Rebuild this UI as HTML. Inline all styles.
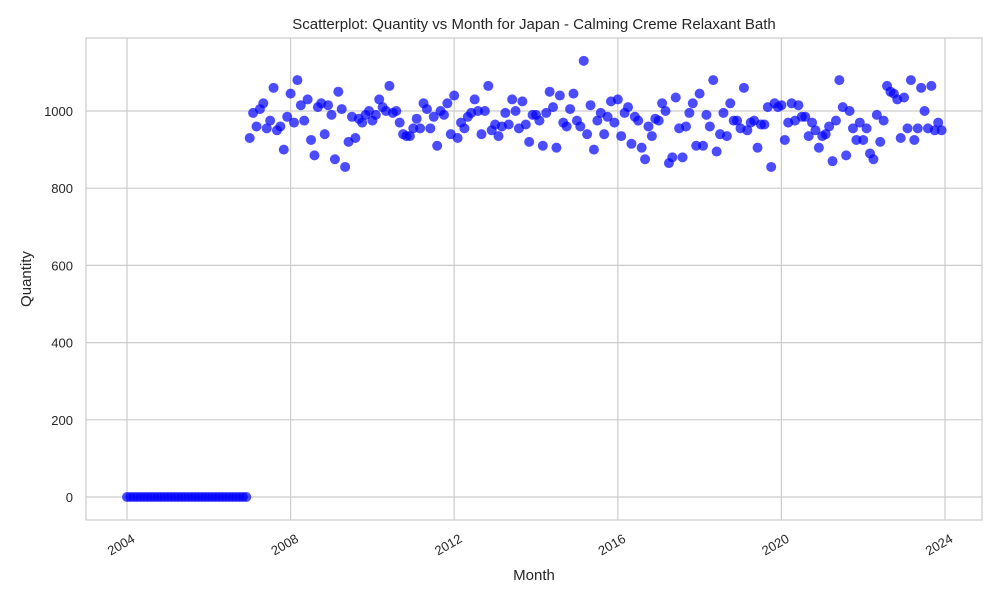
<!DOCTYPE html>
<html><head><meta charset="utf-8"><style>
body{margin:0;background:#fff;}
svg text{font-family:"Liberation Sans",sans-serif;fill:#262626;}
</style></head><body>
<svg id="c" width="1000" height="600" xmlns="http://www.w3.org/2000/svg">
<rect width="1000" height="600" fill="#fff"/>
<text x="534" y="29" font-size="15" text-anchor="middle">Scatterplot: Quantity vs Month for Japan - Calming Creme Relaxant Bath</text>
<text x="534" y="580" font-size="15" text-anchor="middle">Month</text>
<text transform="translate(31,279) rotate(-90)" font-size="15" text-anchor="middle">Quantity</text>
<g id="grid"></g><g id="pts"></g>
<rect x="86" y="38" width="896" height="482" fill="none" stroke="#ccc" stroke-width="1.2"/>
</svg>
<script>
const startYear = 2004;
const zeroMonths = 36;
const values2007 = [930,995,960,1005,1020,955,975,1060,950,960,900,985];
const values2008 = [1045,970,1080,1015,975,1030,925,885,1010,1020,940,1015];
const values2009 = [990,875,1050,1005,855,920,985,930,980,970,990,1000];
const values2010 = [975,990,1030,1010,1000,1065,995,1000,970,940,935,935];
const values2011 = [955,980,955,1020,1005,955,985,910,1000,990,1020,940];
const values2012 = [1040,930,970,955,985,995,1030,1000,940,1000,1065,950];
const values2013 = [965,935,960,995,965,1030,1000,955,1025,965,920,990];
const values2014 = [990,975,910,995,1050,1010,905,1040,970,960,1005,1045];
const values2015 = [975,960,1130,940,1015,900,975,995,940,985,1025,970];
const values2016 = [1030,935,995,1010,915,985,975,905,875,960,935,980];
const values2017 = [975,1020,1000,865,880,1035,955,880,960,995,1020,910];
const values2018 = [1045,910,990,960,1080,895,940,995,935,1020,975,975];
const values2019 = [955,1060,950,970,975,905,965,965,1010,855,1020,1010];
const values2020 = [1015,925,970,1020,975,1015,985,985,935,970,950,905];
const values2021 = [935,940,960,870,975,1080,1010,885,1000,955,925,970];
const values2022 = [925,955,890,875,990,920,975,1065,1050,1045,1030,930];
const values2023 = [1035,955,1080,925,955,1060,1000,955,1065,950,970,950];
const yTicks = [0,200,400,600,800,1000];
const xTicks = [2004,2008,2012,2016,2020,2024];

const quantities = new Array(zeroMonths).fill(0).concat(values2007,values2008,values2009,values2010,values2011,values2012,values2013,values2014,values2015,values2016,values2017,values2018,values2019,values2020,values2021,values2022,values2023);
const NS="http://www.w3.org/2000/svg";
function xs(yearFrac){return 127+(yearFrac-2004)*40.9;}
function ys(v){return 497-v*0.386;}
function mk(t,a,p){const e=document.createElementNS(NS,t);for(const k in a)e.setAttribute(k,a[k]);p.appendChild(e);return e;}
const grid=document.getElementById('grid'),svg=document.getElementById('c'),pts=document.getElementById('pts');
yTicks.forEach(v=>{
  const l=mk('line',{x1:86,x2:982,y1:ys(v),y2:ys(v),stroke:'#ccc','stroke-width':1.2},grid);
  
  
  const t=mk('text',{x:73,y:ys(v)+5,'font-size':13,'text-anchor':'end'},svg);
  t.textContent=v;
  
  
});
xTicks.forEach(yr=>{
  const x=xs(yr);
  const l=mk('line',{x1:x,x2:x,y1:38,y2:520,stroke:'#ccc','stroke-width':1.2},grid);
  
  
  const t=mk('text',{transform:`translate(${x+4},${533}) rotate(-30)`,'font-size':13,'text-anchor':'end','dominant-baseline':'hanging'},svg);
  t.textContent=yr;
  
  
});
quantities.forEach((q,i)=>{
  const yr=startYear+i/12;
  const c=mk('circle',{cx:xs(yr),cy:ys(q),r:5,fill:'#0000ff','fill-opacity':0.7},pts);
  
  
});
</script>
</body></html>
